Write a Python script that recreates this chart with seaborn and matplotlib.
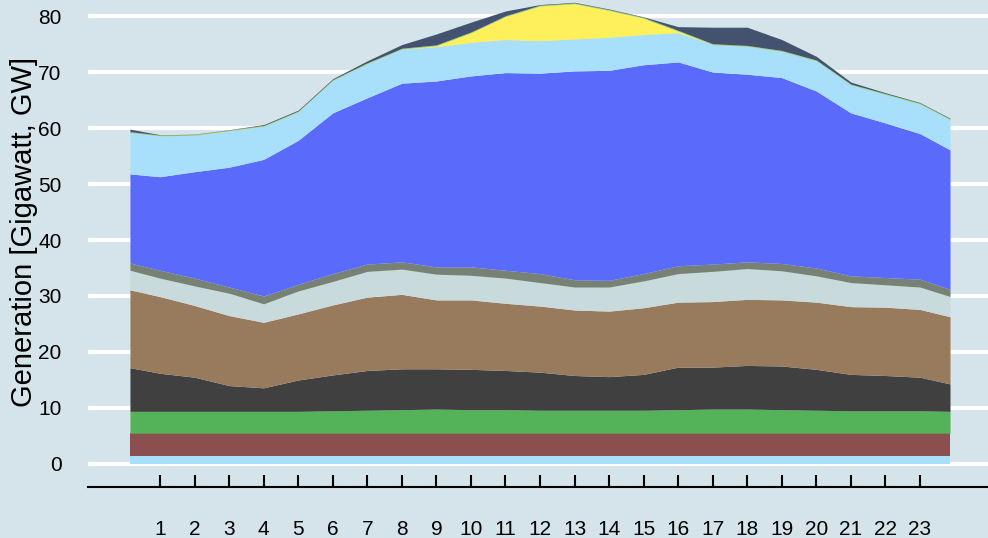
import pandas as pd
import seaborn as sns
import matplotlib
matplotlib.use("Agg")
import matplotlib.pyplot as plt

# hours of the day (first/last samples sit a bit inside the day)
hours = [0.13, 1, 2, 3, 4, 5, 6, 7, 8, 9, 10, 11, 12,
         13, 14, 15, 16, 17, 18, 19, 20, 21, 22, 23, 23.87]

# generation per source, GW (bottom to top)
gen_a = [1.4] * 25
gen_b = [4.1] * 25
gen_c = [3.9, 3.9, 3.9, 3.9, 3.9, 3.9, 4.0, 4.1, 4.2, 4.3, 4.2, 4.2, 4.1,
         4.1, 4.1, 4.1, 4.2, 4.3, 4.3, 4.2, 4.1, 4.0, 4.0, 4.0, 3.9]
gen_d = [7.8, 6.8, 6.1, 4.6, 4.2, 5.6, 6.4, 7.1, 7.3, 7.2, 7.2, 7.0, 6.8,
         6.2, 6.0, 6.4, 7.6, 7.5, 7.8, 7.8, 7.3, 6.5, 6.3, 6.0, 4.9]
gen_e = [13.9, 13.7, 12.8, 12.5, 11.7, 11.8, 12.5, 13.1, 13.3, 12.3, 12.4, 12.0, 11.8,
         11.7, 11.7, 11.9, 11.6, 11.7, 11.8, 11.8, 12.0, 12.1, 12.2, 12.1, 12.0]
gen_f = [3.5, 3.3, 3.5, 4.0, 3.3, 4.1, 4.2, 4.6, 4.5, 4.6, 4.4, 4.5, 4.2,
         4.1, 4.3, 4.8, 5.1, 5.4, 5.5, 5.2, 4.7, 4.3, 4.0, 4.0, 3.6]
gen_g = [1.3, 1.4, 1.4, 1.1, 1.4, 1.2, 1.4, 1.3, 1.3, 1.3, 1.5, 1.4, 1.6,
         1.3, 1.2, 1.3, 1.4, 1.3, 1.2, 1.3, 1.4, 1.2, 1.3, 1.4, 1.3]
gen_h = [15.9, 16.7, 19.0, 21.4, 24.4, 25.7, 28.7, 29.7, 31.9, 33.2, 34.1, 35.3, 35.8,
         37.3, 37.5, 37.3, 36.4, 34.3, 33.5, 33.2, 31.6, 29.1, 27.6, 26.0, 24.9]
gen_i = [7.4, 7.3, 6.5, 6.5, 5.9, 5.1, 5.8, 6.1, 6.1, 6.1, 6.0, 5.9, 5.8,
         5.7, 5.9, 5.4, 5.2, 4.9, 5.0, 4.7, 5.4, 5.0, 5.1, 5.3, 5.4]
solar = [0, 0, 0, 0, 0, 0, 0, 0, 0, 0.2, 1.7, 4.1, 6.2,
         6.3, 4.8, 2.9, 0.3, 0, 0, 0, 0, 0, 0, 0, 0]
gen_k = [0.15] * 25
gen_l = [0.45, 0.05, 0.05, 0.05, 0.15, 0.15, 0.15, 0.35, 0.65, 1.95, 1.75, 0.85, 0.1,
         0.1, 0.1, 0.1, 0.65, 2.95, 3.25, 1.95, 0.65, 0.35, 0.15, 0.1, 0.1]

colors = ["#a8e0fc", "#8b4f4f", "#54b259", "#404040", "#987b5c", "#c8dadb",
          "#778275", "#5a6bfb", "#a8e0fc", "#fef05a", "#9ccf5a", "#43536f"]

tick_hours = list(range(1, 24))

df = pd.DataFrame({"hour": hours, "a": gen_a, "b": gen_b, "c": gen_c, "d": gen_d,
                   "e": gen_e, "f": gen_f, "g": gen_g, "h": gen_h, "i": gen_i,
                   "solar": solar, "k": gen_k, "l": gen_l})

bg = "#d5e4eb"
sns.set_style("whitegrid", {"axes.facecolor": bg, "figure.facecolor": bg,
                            "grid.color": "white", "axes.edgecolor": "black"})
plt.rcParams["font.family"] = ["Liberation Sans", "DejaVu Sans"]

fig = plt.figure(figsize=(9.88, 5.38), dpi=100)
ax = fig.add_axes([88 / 988, 51 / 538, 900 / 988, 487 / 538])

ax.stackplot(df["hour"], [df[c] for c in df.columns[1:]], colors=colors,
             linewidth=0, zorder=3)

ax.set_xlim(-1.084, 24.97)
ax.set_ylim(-4.11, 82.86)
ax.set_yticks([0, 10, 20, 30, 40, 50, 60, 70, 80])
ax.set_xticks(tick_hours)
ax.grid(axis="y", color="white", linewidth=3, zorder=0)
ax.grid(axis="x", visible=False)

for s in ["left", "right", "top"]:
    ax.spines[s].set_visible(False)
ax.spines["bottom"].set_color("black")
ax.spines["bottom"].set_linewidth(1.5)

ax.tick_params(axis="y", length=0, pad=19, labelsize=15, colors="black")
ax.tick_params(axis="x", direction="in", length=8.6, width=1.5, pad=24,
               labelsize=15, colors="black", bottom=True)

ax.set_ylabel("Generation [Gigawatt, GW]", fontsize=21, color="black")
ax.yaxis.set_label_coords(-0.056, 0.524)

fig.savefig("out.png", dpi=100, facecolor=bg)
